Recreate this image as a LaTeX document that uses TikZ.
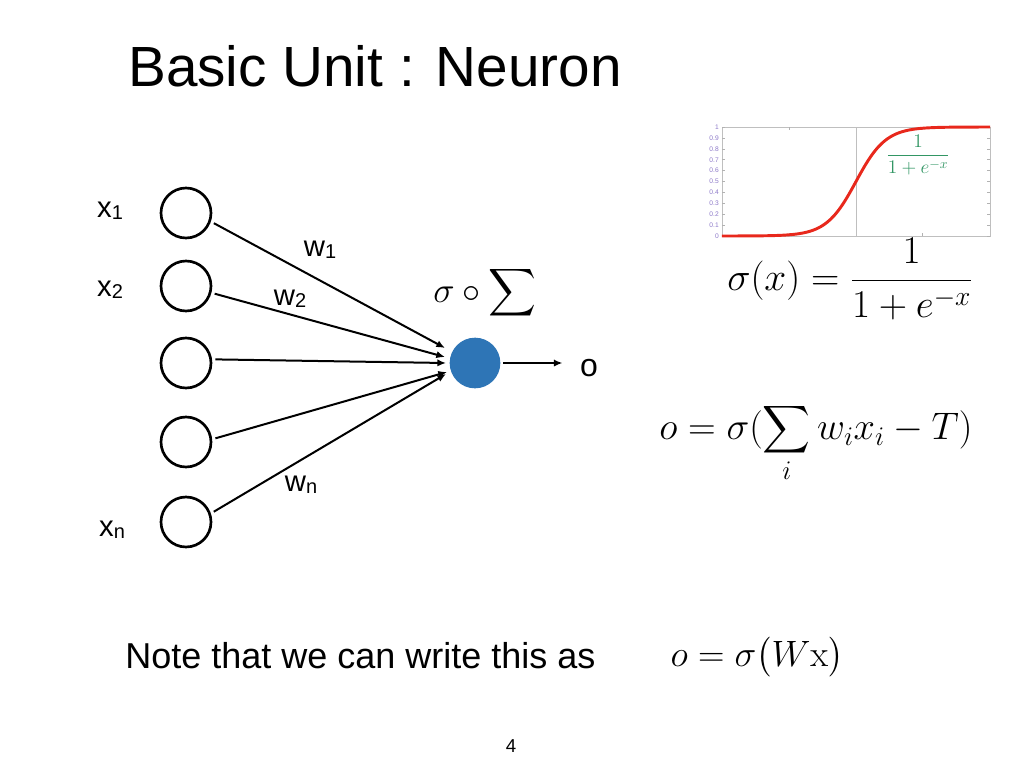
\RequirePackage{fix-cm}
\documentclass[tikz,border=0pt]{standalone}
\usepackage[no-math]{fontspec}
\setmainfont{Liberation Sans}
\usepackage{amsmath}
\usetikzlibrary{arrows.meta}
\definecolor{nrnblue}{RGB}{46,117,182}
\definecolor{sigred}{RGB}{232,40,28}
\definecolor{tickpurple}{RGB}{140,120,200}
\definecolor{fracgreen}{RGB}{50,150,100}
\newcommand{\fsz}[1]{\fontsize{#1}{#1}\selectfont}
\newcommand{\lsub}[1]{\raisebox{-1.5pt}{\fsz{15pt}#1}}
\tikzset{
  inp/.style={circle, draw, line width=2pt, minimum size=37.5pt, inner sep=0pt},
  lbl/.style={inner sep=0pt, font=\fsz{22pt}},
  wire/.style={line width=1.5pt, -{Latex[length=6.5pt,width=5.5pt]}},
}
\begin{document}
\begin{tikzpicture}[x=0.75pt,y=-0.75pt]
    \useasboundingbox (0,0) rectangle (1024,768);
    \node[anchor=base west, inner sep=0pt, font=\fsz{42.5pt}] (title) at (128,86) {Basic Unit : Neuron};
    % inputs and the unit
    \foreach \n/\y in {1/213,2/286,3/363,4/442,5/522}
        \node[inp] (in\n) at (186,\y) {};
    \node[circle, fill=nrnblue, minimum size=38pt, inner sep=0pt] (nrn) at (475,363) {};
    \node[lbl] (x1) at (110,211) {x\lsub{1}};
    \node[lbl] (x2) at (110,290) {x\lsub{2}};
    \node[lbl] (xn) at (112,530) {x\lsub{n}};
    \node[lbl] (w1) at (320,250) {w\lsub{1}};
    \node[lbl] (w2) at (290,299) {w\lsub{2}};
    \node[lbl] (wn) at (301,485) {w\lsub{n}};
    \node[font=\fsz{27pt}] (act) at (485,293) {$\displaystyle\sigma\circ\sum$};
    \node[lbl, font=\fsz{24pt}] (out) at (589,368) {o};
    % weighted inputs
    \foreach \n/\a/\tx/\ty in {1/-19/445/348,2/-15/445/357,3/8/446/363,4/6/447/372,5/19/446/374} {
        \coordinate (t\n) at (\tx,\ty);
        \draw[wire, shorten <=2.5pt] (in\n.\a) -- (t\n);
    }
    \draw[wire, shorten <=2pt, shorten >=13pt] (nrn.east) -- (nrn.east -| out.west);
    % sigmoid plot
    \draw[black!25] (722,127) rectangle (990,236);
    \draw[black!25] (856,127) -- (856,236);
    \foreach \x in {789,922} {
        \draw[black!30] (\x,127) -- ++(0,3);
        \draw[black!30] (\x,236) -- ++(0,-3);
    }
    \foreach \k/\t in {0/0,1/0.1,2/0.2,3/0.3,4/0.4,5/0.5,6/0.6,7/0.7,8/0.8,9/0.9,10/1} {
        \draw[black!30] (722,{236-10.9*\k}) -- ++(3,0);
        \draw[black!30] (990,{236-10.9*\k}) -- ++(-3,0);
        \node[anchor=east, inner sep=0pt, font=\fsz{5pt}, text=tickpurple] at (719,{236-10.9*\k}) {\t};
    }
    \draw[sigred, line width=2.2pt] plot[domain=-9:9, samples=90, smooth] ({856+14.9*\x},{236-109/(1+exp(-\x))});
    \node[text=fracgreen, font=\fsz{14.5pt}] (gfrac) at (918,155) {$\displaystyle\frac{1}{1+e^{-x}}$};
    % formulas
    \node[font=\fsz{29.5pt}] (sig) at (850,279) {$\displaystyle\sigma(x)=\frac{1}{1+e^{-x}}$};
    \node[font=\fsz{28.8pt}] (ofull) at (816,443) {$\displaystyle o=\sigma(\sum_i w_ix_i-T)$};
    \node[anchor=base west, inner sep=0pt, font=\fsz{27pt}] (note) at (125,668) {Note that we can write this as};
    \node[font=\fsz{27.5pt}] (omat) at (757,657) {$o=\sigma\bigl(W\mathrm{x}\bigr)$};
    \node[anchor=base, inner sep=0pt, font=\fsz{14pt}] (page) at (511,752) {4};
\end{tikzpicture}
\end{document}
